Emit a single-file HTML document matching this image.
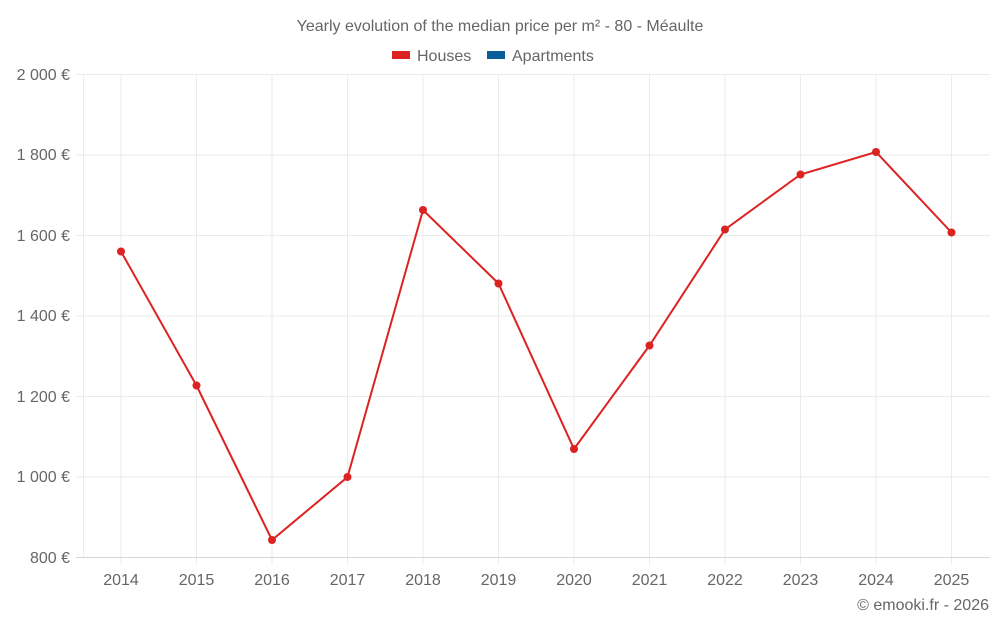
<!DOCTYPE html>
<html><head><meta charset="utf-8"><style>
body{margin:0;background:#fff}
svg text{font-family:"Liberation Sans",sans-serif;fill:#666}
</style></head><body>
<svg width="1000" height="625" viewBox="0 0 1000 625" xmlns="http://www.w3.org/2000/svg">
<rect width="1000" height="625" fill="#fff"/>
<text x="500" y="31" text-anchor="middle" font-size="16">Yearly evolution of the median price per m² - 80 - Méaulte</text>
<rect x="392" y="51" width="18" height="8" fill="#dd2222"/>
<text x="417" y="61" font-size="16">Houses</text>
<rect x="487" y="51" width="18" height="8" fill="#0a5e9a"/>
<text x="512" y="61" font-size="16">Apartments</text>
<g stroke="#ebebeb" stroke-width="1">
<line x1="76" y1="74.5" x2="990" y2="74.5"/>
<line x1="76" y1="155" x2="990" y2="155"/>
<line x1="76" y1="235.5" x2="990" y2="235.5"/>
<line x1="76" y1="316" x2="990" y2="316"/>
<line x1="76" y1="396.5" x2="990" y2="396.5"/>
<line x1="76" y1="477" x2="990" y2="477"/>
<line x1="83.5" y1="74" x2="83.5" y2="557"/>
<line x1="121" y1="74" x2="121" y2="565"/><line x1="196.5" y1="74" x2="196.5" y2="565"/><line x1="272" y1="74" x2="272" y2="565"/><line x1="347.5" y1="74" x2="347.5" y2="565"/><line x1="423" y1="74" x2="423" y2="565"/><line x1="498.5" y1="74" x2="498.5" y2="565"/><line x1="574" y1="74" x2="574" y2="565"/><line x1="649.5" y1="74" x2="649.5" y2="565"/><line x1="725" y1="74" x2="725" y2="565"/><line x1="800.5" y1="74" x2="800.5" y2="565"/><line x1="876" y1="74" x2="876" y2="565"/><line x1="951.5" y1="74" x2="951.5" y2="565"/>
</g>
<line x1="76" y1="557.5" x2="990" y2="557.5" stroke="#d6d6d6"/>
<g font-size="16" text-anchor="end">
<text x="70" y="80">2 000 €</text><text x="70" y="160">1 800 €</text><text x="70" y="241">1 600 €</text><text x="70" y="321">1 400 €</text><text x="70" y="402">1 200 €</text><text x="70" y="482">1 000 €</text><text x="70" y="563">800 €</text>
</g>
<g font-size="16" text-anchor="middle">
<text x="121" y="585">2014</text><text x="196.5" y="585">2015</text><text x="272" y="585">2016</text><text x="347.5" y="585">2017</text><text x="423" y="585">2018</text><text x="498.5" y="585">2019</text><text x="574" y="585">2020</text><text x="649.5" y="585">2021</text><text x="725" y="585">2022</text><text x="800.5" y="585">2023</text><text x="876" y="585">2024</text><text x="951.5" y="585">2025</text>
</g>
<text x="989" y="610" font-size="16" text-anchor="end">© emooki.fr - 2026</text>
<polyline fill="none" stroke="#dd2222" stroke-width="2" points="121,251.5 196.5,385.5 272,540 347.5,477 423,210 498.5,283.5 574,449 649.5,345.5 725,229.5 800.5,174.5 876,152 951.5,232.5"/>
<g fill="#dd2222">
<circle cx="121" cy="251.5" r="4"/><circle cx="196.5" cy="385.5" r="4"/><circle cx="272" cy="540" r="4"/><circle cx="347.5" cy="477" r="4"/><circle cx="423" cy="210" r="4"/><circle cx="498.5" cy="283.5" r="4"/><circle cx="574" cy="449" r="4"/><circle cx="649.5" cy="345.5" r="4"/><circle cx="725" cy="229.5" r="4"/><circle cx="800.5" cy="174.5" r="4"/><circle cx="876" cy="152" r="4"/><circle cx="951.5" cy="232.5" r="4"/>
</g>
</svg>
</body></html>
